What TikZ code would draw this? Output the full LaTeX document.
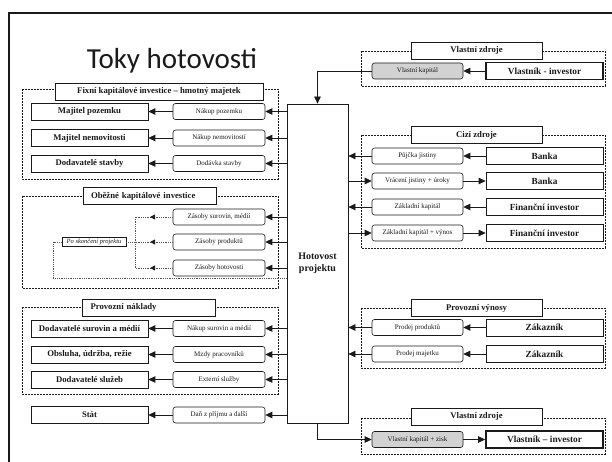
\documentclass[tikz,border=0pt]{standalone}
\usepackage{fontspec}
\setmainfont{Liberation Serif}
\newfontfamily\titlefont{Carlito}
\usetikzlibrary{arrows.meta,decorations.markings,calc}
\definecolor{ink}{HTML}{1A1A1A}
\definecolor{greyfill}{HTML}{D2D2D2}
\definecolor{dotc}{HTML}{555555}
\begin{document}
\begin{tikzpicture}[x=1pt,y=-1pt,
  every node/.style={inner sep=0pt, text=ink},
  bigbox/.style={draw=ink, line width=0.7pt, fill=white, minimum width=117pt, minimum height=17pt, font=\fontsize{8.7}{10}\selectfont\bfseries},
  rbox/.style={bigbox, font=\fontsize{9.3}{10}\selectfont\bfseries},
  thickbox/.style={rbox, line width=1.7pt},
  smallbox/.style={draw=ink, line width=0.6pt, fill=white, rounded corners=2.5pt, minimum width=92pt, minimum height=16pt, font=\fontsize{7}{8}\selectfont},
  greybox/.style={smallbox, fill=greyfill},
  hdr/.style={draw=ink, line width=0.7pt, fill=white, minimum height=17pt, font=\fontsize{8.7}{10}\selectfont\bfseries},
  hdrleft/.style={hdr, inner xsep=8pt, text width=117pt, align=left},
  hdrright/.style={hdr, minimum width=131pt},
  grp/.style={draw=ink, line width=0.9pt, dash pattern=on 1.8pt off 1.2pt},
  arr/.style={draw=ink, line width=0.8pt, -{Triangle[length=7pt,width=6.5pt]}},
  dotline/.style={draw=dotc, line width=0.7pt, dash pattern=on 1pt off 0.8pt},
  midarrow/.style={postaction={decorate, decoration={markings, mark=at position 0.6 with {\arrow[ink]{Triangle[length=5pt,width=5pt]}}}}}
]
\useasboundingbox (0,0) rectangle (612,462);
\fill[white] (0,0) rectangle (612,462);
\draw[line width=2pt, ink] (8.5,462) -- (8.5,13.5) -- (612,13.5);

\node[font=\titlefont\fontsize{29}{34}\selectfont, anchor=base] (title) at (172,69) {Toky hotovosti};

% group frames
\draw[grp] (22,89) rectangle (278,179);
\draw[grp] (22,196) rectangle (278,288);
\draw[grp] (22,307) rectangle (278,394);
\draw[grp] (361,51) rectangle (605,86);
\draw[grp] (361,135) rectangle (605,248);
\draw[grp] (361,308) rectangle (605,368);
\draw[grp] (361,418) rectangle (605,454);

% headers
\node[hdr, minimum width=208pt] (h1) at (159,91.5) {Fixní kapitálové investice -- hmotný majetek};
\node[hdrleft] (h2) at (149.5,196) {Oběžné kapitálové investice};
\node[hdrleft] (h3) at (149,307.5) {Provozní náklady};
\node[hdrright] (h4) at (476.5,50.5) {Vlastní zdroje};
\node[hdrright] (h5) at (476.5,135) {Cizí zdroje};
\node[hdrright] (h6) at (476.5,308) {Provozní výnosy};
\node[hdrright] (h7) at (476.5,416.5) {Vlastní zdroje};

% central box
\node[draw=ink, line width=0.8pt, fill=white, minimum width=61pt, minimum height=319pt, align=center, font=\fontsize{10}{12}\selectfont\bfseries] (hot) at (317.5,263.5) {Hotovost\\projektu};

% left side
\node[bigbox] (L1) at (89.5,111.5) {Majitel pozemku};
\node[smallbox] (S1) at (219,111.5) {Nákup pozemku};
\node[bigbox] (L2) at (89.5,138) {Majitel nemovitosti};
\node[smallbox] (S2) at (219,138) {Nákup nemovitostí};
\node[bigbox] (L3) at (89.5,163.5) {Dodavatelé stavby};
\node[smallbox] (S3) at (219,163.5) {Dodávka stavby};

\node[smallbox] (Z1) at (219,217) {Zásoby surovin, médií};
\node[smallbox] (Z2) at (219,242) {Zásoby produktů};
\node[smallbox] (Z3) at (219,268) {Zásoby hotovosti};
\node[draw=ink, line width=0.6pt, fill=white, minimum width=64pt, minimum height=9pt, font=\fontsize{6.5}{7}\selectfont\itshape] (PO) at (94,242) {Po skončení projektu};

\node[bigbox] (L4) at (89.5,328.5) {Dodavatelé surovin a médií};
\node[smallbox] (S4) at (219,328.5) {Nákup surovin a médií};
\node[bigbox] (L5) at (89.5,354.5) {Obsluha, údržba, režie};
\node[smallbox] (S5) at (219,354.5) {Mzdy pracovníků};
\node[bigbox] (L6) at (89.5,379.5) {Dodavatelé služeb};
\node[smallbox] (S6) at (219,379.5) {Externí služby};
\node[bigbox] (L7) at (89.5,415) {Stát};
\node[smallbox] (S7) at (219,415) {Daň z příjmu a další};

% right side
\node[greybox, minimum width=91pt] (VK) at (417.5,71) {Vlastní kapitál};
\node[thickbox] (VI) at (544.5,71) {Vlastník - investor};
\node[smallbox, minimum width=91pt] (R1) at (417.5,156) {Půjčka jistiny};
\node[rbox] (B1) at (544.5,156) {Banka};
\node[smallbox, minimum width=91pt] (R2) at (417.5,181) {Vrácení jistiny + úroky};
\node[rbox] (B2) at (544.5,181) {Banka};
\node[smallbox, minimum width=91pt] (R3) at (417.5,207) {Základní kapitál};
\node[rbox] (B3) at (544.5,207) {Finanční investor};
\node[smallbox, minimum width=91pt] (R4) at (417.5,233) {Základní kapitál + výnos};
\node[rbox] (B4) at (544.5,233) {Finanční investor};
\node[smallbox, minimum width=91pt] (P1) at (417.5,327.5) {Prodej produktů};
\node[rbox] (C1) at (544.5,327.5) {Zákazník};
\node[smallbox, minimum width=91pt] (P2) at (417.5,354) {Prodej majetku};
\node[rbox] (C2) at (544.5,354) {Zákazník};
\node[greybox, minimum width=91pt] (VKZ) at (417.5,439.5) {Vlastní kapitál + zisk};
\node[thickbox] (VI2) at (544.5,439.5) {Vlastník -- investor};

% left connectors
\foreach \s/\l in {S1/L1,S2/L2,S3/L3,S4/L4,S5/L5,S6/L6,S7/L7}{
  \draw[arr] (\s.west) -- (\l.east);
  \draw[arr] (\s.east -| hot.west) -- (\s.east);
}
\foreach \z in {Z1,Z2,Z3}{
  \draw[arr] (\z.east -| hot.west) -- (\z.east);
}

% dotted returns
\coordinate (v1) at (135,217);
\coordinate (v2) at (135,242);
\coordinate (v3) at (135,268);
\coordinate (pa) at (53,242);
\coordinate (pb) at (53,278);
\draw[dotline, midarrow] (Z1.west) -- (v1);
\draw[dotline, midarrow] (Z2.west) -- (v2);
\draw[dotline, midarrow] (Z3.west) -- (v3);
\draw[dotline] (v1) -- (v3);
\draw[dotline] (PO.east) -- (v2);
\draw[dotline] (PO.west) -- (pa) -- (pb) -- (pb -| hot.west);
\draw[draw=none, -{Triangle[length=5pt,width=5pt]}, ink] ($(pb -| hot.west)+(-5,0)$) -- (pb -| hot.west);

% right connectors
\draw[arr] (VI.west) -- (VK.east);
\draw[arr] (VK.west) -| (hot.north);
\foreach \r/\b in {R1/B1,R3/B3,P1/C1,P2/C2}{
  \draw[arr] (\b.west) -- (\r.east);
  \draw[arr] (\r.west) -- (\r.west -| hot.east);
}
\foreach \r/\b in {R2/B2,R4/B4}{
  \draw[arr] (\r.west -| hot.east) -- (\r.west);
  \draw[arr] (\r.east) -- (\b.west);
}
\draw[arr] (hot.south) |- (VKZ.west);
\draw[arr] (VKZ.east) -- (VI2.west);
\end{tikzpicture}
\end{document}
